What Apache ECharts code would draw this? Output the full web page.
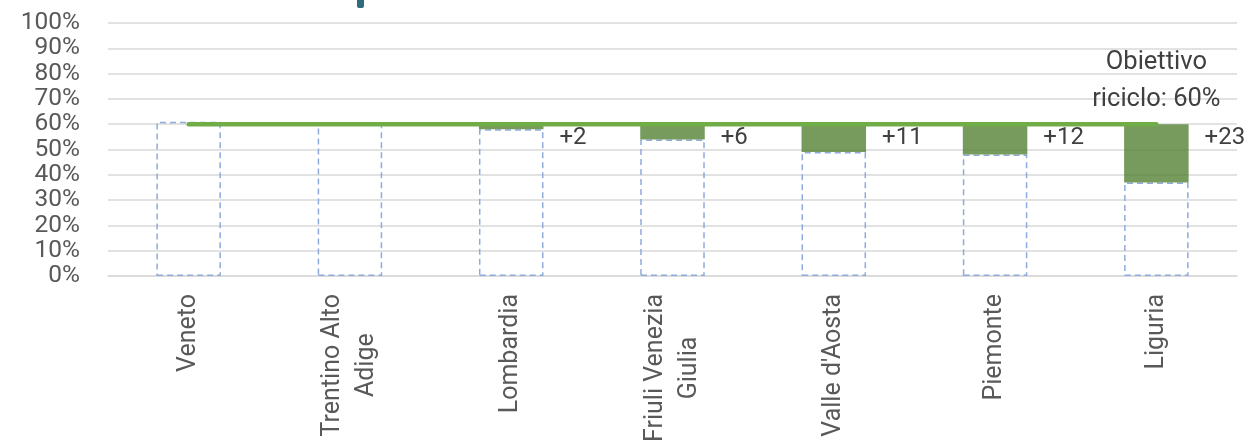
<!DOCTYPE html>
<html>
<head>
<meta charset="utf-8">
<title>Riciclo rifiuti urbani per regione</title>
<script src="https://cdn.jsdelivr.net/npm/echarts@6/dist/echarts.min.js"></script>
<style>
  html, body { margin: 0; padding: 0; background: #ffffff; }
  #chart { width: 1259px; height: 441px; }
</style>
</head>
<body>
<div id="chart"></div>
<script>
// Regioni del Nord
const categories = ['Veneto', 'Trentino Alto\nAdige', 'Lombardia', 'Friuli Venezia\nGiulia', "Valle d'Aosta", 'Piemonte', 'Liguria'];
// Tasso di riciclo attuale (%)
const riciclo = [61, 60, 58, 54, 49, 48, 37];
// Punti mancanti all'obiettivo
const distanza = [0, 0, 2, 6, 11, 12, 23];
// Obiettivo di riciclo (%)
const obiettivo = [60, 60, 60, 60, 60, 60, 60];
const yTicks = [0, 10, 20, 30, 40, 50, 60, 70, 80, 90, 100];

const FONT = 'Roboto, "Noto Sans", sans-serif';
const chart = echarts.init(document.getElementById('chart'));

// the target note sits above the last point of the target line
const targetData = obiettivo.map((v, i) => {
  if (i !== obiettivo.length - 1) return v;
  return {
    value: v,
    label: {
      show: true,
      position: 'top',
      distance: 6,
      formatter: 'Obiettivo\nriciclo: ' + v + '%',
      fontFamily: FONT,
      fontSize: 25.5,
      lineHeight: 37,
      color: '#404040',
      align: 'center'
    }
  };
});

chart.setOption({
  animation: false,
  backgroundColor: '#ffffff',
  grid: { left: 108, right: 22, top: 23, bottom: 165, containLabel: false, outerBoundsMode: 'none' },
  xAxis: {
    type: 'category',
    data: categories,
    axisLine: { show: true, lineStyle: { color: '#d9d9d9', width: 1.5 } },
    axisTick: { show: false },
    axisLabel: {
      rotate: 90,
      margin: 18,
      interval: 0,
      formatter: v => v.split('\n').map(s => '{c|' + s + '}').join('\n'),
      rich: {
        c: { align: 'center', fontFamily: FONT, fontSize: 25, lineHeight: 34, color: '#595959' }
      }
    }
  },
  yAxis: {
    type: 'value',
    min: yTicks[0],
    max: yTicks[yTicks.length - 1],
    interval: 10,
    axisLine: { show: false },
    axisTick: { show: false },
    splitLine: { lineStyle: { color: '#d9d9d9', width: 1.5 } },
    axisLabel: {
      margin: 28,
      formatter: '{value}%',
      fontFamily: FONT,
      fontSize: 24.5,
      color: '#595959'
    }
  },
  series: [
    {
      name: 'Riciclo',
      type: 'bar',
      stack: 'tot',
      barWidth: '40%',
      data: riciclo,
      itemStyle: {
        color: 'rgba(0,0,0,0)',
        borderColor: '#8faadc',
        borderWidth: 1.5,
        borderType: [6, 4]
      },
      z: 2
    },
    {
      name: 'Distanza',
      type: 'bar',
      stack: 'tot',
      barWidth: '40%',
      data: distanza,
      itemStyle: { color: 'rgba(84,130,53,0.8)' },
      label: {
        show: true,
        position: ['100%', 0],
        offset: [16, 2],
        align: 'left',
        verticalAlign: 'top',
        formatter: p => p.value > 0 ? '+' + p.value : '',
        fontFamily: FONT,
        fontSize: 24,
        color: '#404040'
      },
      z: 3
    },
    {
      name: 'Obiettivo',
      type: 'line',
      data: targetData,
      symbol: 'circle',
      symbolSize: 0,
      showSymbol: true,
      itemStyle: { color: '#70ad47' },
      lineStyle: { color: '#70ad47', width: 4.5, cap: 'round' },
      z: 5
    }
  ],
  graphic: [
    {
      type: 'rect',
      left: 357,
      top: -3,
      shape: { width: 7, height: 11, r: 2 },
      style: { fill: '#2e6c7c' }
    }
  ]
});
</script>
</body>
</html>
